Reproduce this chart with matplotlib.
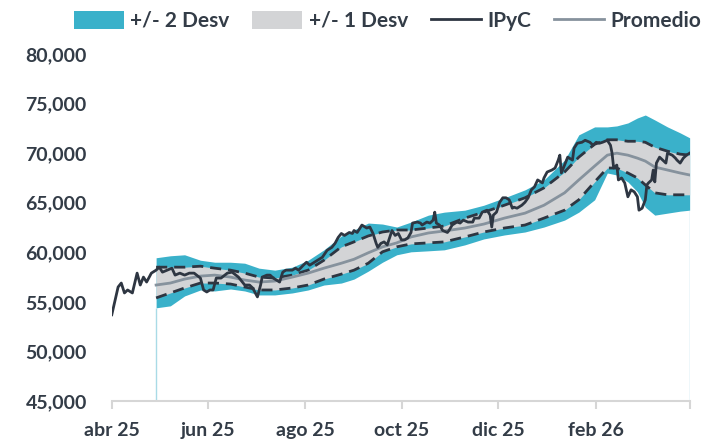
#!/usr/bin/env python3
"""
IPyC con bandas de +/- 1 y +/- 2 desviaciones alrededor del promedio movil.
"""

import matplotlib
matplotlib.use('Agg')
import matplotlib.pyplot as plt
from matplotlib.patches import Patch
from matplotlib.lines import Line2D
import pandas as pd

# IPyC (cierre)
ipyc_dates = [
    '2025-04-01', '2025-04-05', '2025-04-07', '2025-04-09', '2025-04-11',
    '2025-04-14', '2025-04-17', '2025-04-19', '2025-04-21', '2025-04-23',
    '2025-04-26', '2025-04-29', '2025-05-01', '2025-05-03', '2025-05-06',
    '2025-05-09', '2025-05-11', '2025-05-14', '2025-05-17', '2025-05-20',
    '2025-05-23', '2025-05-27', '2025-05-29', '2025-05-31', '2025-06-02',
    '2025-06-04', '2025-06-06', '2025-06-09', '2025-06-13', '2025-06-16',
    '2025-06-20', '2025-06-24', '2025-06-27', '2025-06-29', '2025-07-02',
    '2025-07-04', '2025-07-05', '2025-07-08', '2025-07-10', '2025-07-12',
    '2025-07-14', '2025-07-16', '2025-07-18', '2025-07-20', '2025-07-24',
    '2025-07-26', '2025-07-28', '2025-07-31', '2025-08-02', '2025-08-04',
    '2025-08-06', '2025-08-09', '2025-08-12', '2025-08-15', '2025-08-18',
    '2025-08-20', '2025-08-22', '2025-08-24', '2025-08-26', '2025-08-29',
    '2025-08-31', '2025-09-01', '2025-09-03', '2025-09-06', '2025-09-09',
    '2025-09-11', '2025-09-13', '2025-09-15', '2025-09-16', '2025-09-18',
    '2025-09-20', '2025-09-22', '2025-09-25', '2025-09-27', '2025-09-29',
    '2025-10-01', '2025-10-03', '2025-10-05', '2025-10-07', '2025-10-08',
    '2025-10-11', '2025-10-13', '2025-10-14', '2025-10-17', '2025-10-19',
    '2025-10-21', '2025-10-22', '2025-10-23', '2025-10-25', '2025-10-27',
    '2025-10-30', '2025-10-31', '2025-11-02', '2025-11-05', '2025-11-07',
    '2025-11-09', '2025-11-12', '2025-11-15', '2025-11-16', '2025-11-19',
    '2025-11-21', '2025-11-24', '2025-11-26', '2025-11-27', '2025-11-28',
    '2025-11-30', '2025-12-02', '2025-12-04', '2025-12-06', '2025-12-08',
    '2025-12-10', '2025-12-11', '2025-12-13', '2025-12-16', '2025-12-18',
    '2025-12-20', '2025-12-22', '2025-12-24', '2025-12-26', '2025-12-29',
    '2025-12-30', '2026-01-01', '2026-01-04', '2026-01-06', '2026-01-08',
    '2026-01-09', '2026-01-10', '2026-01-12', '2026-01-14', '2026-01-17',
    '2026-01-18', '2026-01-20', '2026-01-23', '2026-01-25', '2026-01-28',
    '2026-01-30', '2026-02-01', '2026-02-03', '2026-02-05', '2026-02-08',
    '2026-02-10', '2026-02-11', '2026-02-12', '2026-02-14', '2026-02-15',
    '2026-02-17', '2026-02-19', '2026-02-21', '2026-02-23', '2026-02-25',
    '2026-02-27', '2026-02-28', '2026-03-02', '2026-03-04', '2026-03-05',
    '2026-03-06', '2026-03-08', '2026-03-09', '2026-03-10', '2026-03-11',
    '2026-03-13', '2026-03-15', '2026-03-17', '2026-03-18', '2026-03-21',
    '2026-03-23', '2026-03-24', '2026-03-26', '2026-03-28', '2026-03-30',
    '2026-04-01',
]
ipyc_vals = [
    53700, 56500, 56900, 55900, 56200, 55900, 57900, 56700, 57500, 57000,
    57900, 58200, 58500, 58000, 58200, 58400, 57700, 57900, 57700, 57900,
    57900, 57400, 56200, 56000, 56200, 56200, 57400, 57400, 57900, 58000,
    57500, 56700, 56700, 56400, 55500, 56700, 57500, 57700, 57700, 57400,
    57200, 57000, 58000, 58200, 58200, 58400, 58200, 58700, 59000, 58700,
    58900, 59200, 59500, 60200, 60500, 60900, 61500, 61900, 61700, 62000,
    61900, 62200, 62000, 62750, 62450, 62550, 61900, 60900, 60500, 60900,
    61050, 60750, 62200, 61700, 61900, 61250, 61250, 61450, 62000, 62950,
    63050, 62950, 62750, 63050, 62950, 63250, 64050, 62950, 62750, 62200,
    62000, 62200, 62750, 63050, 62950, 63250, 63050, 63050, 63450, 63450,
    64050, 64250, 63750, 62550, 63750, 64050, 65050, 65500, 65500, 65300,
    64450, 64550, 64450, 64750, 65050, 65500, 66300, 66600, 67300, 67000,
    67500, 68100, 68300, 68500, 69300, 69800, 68000, 68800, 69600, 69300,
    70500, 71000, 71100, 71300, 71100, 70800, 71100, 71000, 71100, 71300,
    70800, 70000, 68500, 68800, 67300, 67500, 67000, 65600, 66300, 66100,
    65600, 64250, 64450, 65300, 66800, 67000, 67300, 68300, 67100, 69000,
    69600, 69300, 69000, 70000, 69800, 69500, 69300, 69000, 69500, 69800,
    70000,
]

# Bandas: promedio y +/- 1, +/- 2 desviaciones
band_dates = [
    '2025-04-29', '2025-05-08', '2025-05-17', '2025-05-27', '2025-06-05',
    '2025-06-15', '2025-06-24', '2025-07-03', '2025-07-13', '2025-07-24',
    '2025-08-03', '2025-08-13', '2025-08-24', '2025-09-01', '2025-09-10',
    '2025-09-19', '2025-09-28', '2025-10-07', '2025-10-18', '2025-10-28',
    '2025-11-10', '2025-11-22', '2025-12-05', '2025-12-18', '2025-12-30',
    '2026-01-12', '2026-01-21', '2026-01-31', '2026-02-08', '2026-02-14',
    '2026-02-21', '2026-02-27', '2026-03-04', '2026-03-10', '2026-03-18',
    '2026-03-26', '2026-04-01',
]
upper2 = [
    59450, 59650, 59750, 59200, 59000, 59000, 58900, 58400, 58200, 58500,
    59200, 60250, 61650, 62250, 62950, 62850, 62550, 63050, 63750, 64050,
    64250, 64750, 65500, 66300, 67300, 69300, 71850, 72650, 72650, 72750,
    73050, 73550, 73850, 73350, 72650, 72050, 71550,
]
upper1 = [
    58500, 58500, 58500, 58600, 58400, 58200, 57900, 57500, 57400, 57700,
    58200, 59200, 60550, 61050, 61650, 62050, 62250, 62250, 62450, 62650,
    63450, 64050, 64750, 65500, 66500, 68100, 69600, 70900, 71350, 71350,
    71200, 71200, 71100, 70600, 70200, 69900, 69800,
]
promedio = [
    56700, 56900, 57300, 57600, 57700, 57500, 57200, 57000, 57100, 57500,
    57900, 58400, 58900, 59300, 59950, 60550, 60950, 61550, 61950, 62150,
    62450, 62850, 63450, 63950, 64750, 66000, 67300, 68700, 69800, 70000,
    69800, 69500, 69200, 68600, 68300, 68000, 67800,
]
lower1 = [
    55400, 55900, 56400, 56900, 56900, 56800, 56500, 56200, 56200, 56400,
    56700, 57300, 57800, 58200, 58900, 60050, 60550, 60850, 60950, 61050,
    61550, 62050, 62450, 62750, 63450, 64250, 65300, 67100, 68500, 68500,
    68000, 67500, 66800, 66000, 65800, 65800, 65800,
]
lower2 = [
    54400, 54600, 55600, 56200, 56100, 56300, 56100, 55700, 55700, 55900,
    56200, 56700, 56900, 57300, 58100, 59000, 59750, 60050, 60150, 60250,
    60750, 61350, 61750, 62050, 62550, 63250, 64050, 65300, 68000, 67800,
    67100, 66100, 64550, 63750, 63950, 64150, 64250,
]

tick_dates = ['2025-04-01', '2025-06-01', '2025-08-01', '2025-10-01',
              '2025-12-01', '2026-02-01', '2026-04-01']
tick_labels = ['abr 25', 'jun 25', 'ago 25', 'oct 25', 'dic 25', 'feb 26', '']
y_ticks = [45000, 50000, 55000, 60000, 65000, 70000, 75000, 80000]

BLUE = '#3ab1ca'
GREY = '#d3d4d6'
DARK = '#2e3642'
MEAN = '#86929d'
TEXT = '#333c47'

plt.rcParams['font.family'] = ['Lato', 'DejaVu Sans']


def main():
    ipyc_x = pd.to_datetime(ipyc_dates)
    band_x = pd.to_datetime(band_dates)

    fig = plt.figure(figsize=(7.03, 4.40), dpi=100)
    ax = fig.add_axes([0.159, 0.0886, 0.822, 0.7886])

    ax.fill_between(band_x, lower2, upper2, color=BLUE, lw=0, zorder=1)
    ax.fill_between(band_x, lower1, upper1, color=GREY, lw=0, zorder=2)
    # bordes verticales del area (como en el original)
    ax.vlines([band_x[0], band_x[-1]], 45000, [lower2[0], lower2[-1]],
              color='#a9dbe6', lw=1, zorder=1)

    ax.plot(band_x, upper1, color=DARK, lw=2, ls=(0, (4, 2.5)), zorder=3)
    ax.plot(band_x, lower1, color=DARK, lw=2, ls=(0, (4, 2.5)), zorder=3)
    ax.plot(band_x, promedio, color=MEAN, lw=2, zorder=4)
    ax.plot(ipyc_x, ipyc_vals, color=DARK, lw=2, zorder=5)

    ax.set_xlim(pd.Timestamp('2025-04-01'), pd.Timestamp('2026-04-01'))
    ax.set_ylim(45000, 80000)
    ax.set_yticks(y_ticks)
    ax.set_yticklabels([f'{v:,.0f}' for v in y_ticks])
    ax.set_xticks(pd.to_datetime(tick_dates))
    ax.set_xticklabels(tick_labels)

    for side in ('top', 'right', 'left'):
        ax.spines[side].set_visible(False)
    ax.spines['bottom'].set_color('#d6d6d6')
    ax.spines['bottom'].set_linewidth(1.5)
    ax.tick_params(axis='y', length=0, pad=18, labelsize=14, labelcolor=TEXT)
    ax.tick_params(axis='x', length=6, width=1.5, color='#d6d6d6', pad=9,
                   labelsize=14, labelcolor=TEXT)
    for lab in ax.get_xticklabels() + ax.get_yticklabels():
        lab.set_fontweight('bold')

    handles = [
        Patch(facecolor=BLUE, edgecolor='none', label='+/- 2 Desv'),
        Patch(facecolor=GREY, edgecolor='none', label='+/- 1 Desv'),
        Line2D([], [], color=DARK, lw=2, label='IPyC'),
        Line2D([], [], color=MEAN, lw=2, label='Promedio'),
    ]
    fig.legend(handles=handles, loc='center', bbox_to_anchor=(0.551, 0.953),
               ncol=4, frameon=False, handlelength=2.4, handleheight=0.95,
               handletextpad=0.3, columnspacing=1.1,
               prop={'size': 15, 'weight': 'bold'}, labelcolor=TEXT)

    fig.savefig('out.png', dpi=100)
    plt.close(fig)


if __name__ == '__main__':
    main()
